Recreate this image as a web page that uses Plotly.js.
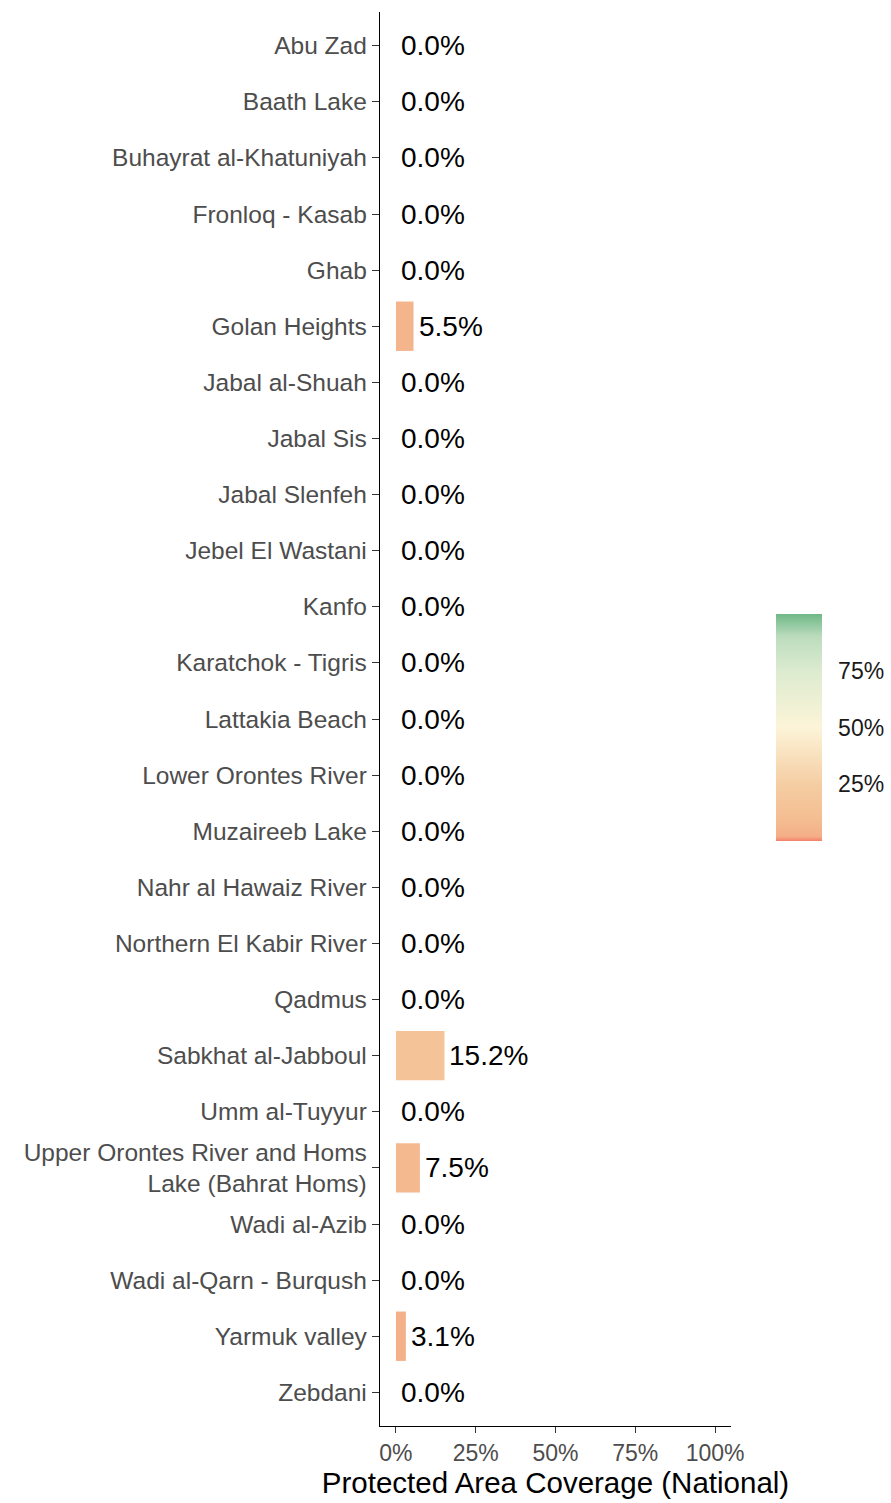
<!DOCTYPE html>
<html><head><meta charset="utf-8">
<script src="https://cdn.plot.ly/plotly-3.0.1.min.js"></script>
<style>body{margin:0;background:#fff}#c{width:891px;height:1503px}</style>
</head><body><div id="c"></div>
<script>
const sites = ["Abu Zad","Baath Lake","Buhayrat al-Khatuniyah","Fronloq - Kasab","Ghab","Golan Heights","Jabal al-Shuah","Jabal Sis","Jabal Slenfeh","Jebel El Wastani","Kanfo","Karatchok - Tigris","Lattakia Beach","Lower Orontes River","Muzaireeb Lake","Nahr al Hawaiz River","Northern El Kabir River","Qadmus","Sabkhat al-Jabboul","Umm al-Tuyyur","Upper Orontes River and Homs<br>Lake (Bahrat Homs)","Wadi al-Azib","Wadi al-Qarn - Burqush","Yarmuk valley","Zebdani"];
const coverage = [0,0,0,0,0,0.055,0,0,0,0,0,0,0,0,0,0,0,0,0.152,0,0.075,0,0,0.031,0];
const labels = coverage.map(v => (v*100).toFixed(1) + "%");
const xTicks = [0,0.25,0.5,0.75,1];
const xTickText = ["0%","25%","50%","75%","100%"];
const cbTicks = [0.25,0.5,0.75];
const cbTickText = ["25%","50%","75%"];

const colorscale = [[0,'#F4806A'],[0.02,'#F4AE88'],[0.1,'#F4BE92'],[0.25,'#F5CDA3'],[0.5,'#FCF4D8'],[0.75,'#DCEBCF'],[0.9,'#BCDCBE'],[1,'#6FB886']];
const FONT = 'Liberation Sans, Arial, sans-serif';

const bars = {
  type:'bar', orientation:'h', y:sites, x:coverage, width:0.88,
  marker:{color:coverage, cmin:0, cmax:1, colorscale:colorscale, line:{width:0},
    showscale:true,
    colorbar:{x:1.128, xanchor:'left', xref:'paper', xpad:0, ypad:0, y:0.494, yanchor:'middle', lenmode:'pixels', len:227, thickness:46,
      outlinewidth:0, tickvals:cbTicks, ticktext:cbTickText, ticks:'outside', tickcolor:'rgba(0,0,0,0)', ticklen:12,
      tickfont:{family:FONT, size:23, color:'#1a1a1a'}, title:{text:''}}},
  hoverinfo:'skip'
};
const annotations = sites.map((s,i) => ({
  x: coverage[i], y: s, xref:'x', yref:'y', text: labels[i], showarrow:false,
  xanchor:'left', yanchor:'middle', xshift:3,
  font:{family:FONT, size:28, color:'#000'}
}));
const layout = {
  width:891, height:1503, margin:{l:380, r:160, t:12, b:77, autoexpand:false},
  paper_bgcolor:'#fff', plot_bgcolor:'#fff', showlegend:false,
  font:{family:FONT},
  annotations: annotations,
  xaxis:{range:[-0.05,1.05], tickvals:xTicks, ticktext:xTickText, showgrid:false, zeroline:false,
    showline:true, linecolor:'#000', linewidth:1.3, ticks:'outside', ticklen:6, tickcolor:'#333',
    tickfont:{size:23, color:'#4d4d4d'},
    title:{text:'Protected Area Coverage (National)', font:{size:29.5, color:'#000'}, standoff:2}},
  yaxis:{type:'category', categoryorder:'array', categoryarray:sites, range:[24.6,-0.6],
    showgrid:false, zeroline:false, showline:true, linecolor:'#000', linewidth:1.3,
    ticks:'outside', ticklen:7, tickcolor:'#333', tickfont:{size:24.5, color:'#4d4d4d'}}
};
Plotly.newPlot('c',[bars],layout,{displayModeBar:false,staticPlot:true});
</script></body></html>
